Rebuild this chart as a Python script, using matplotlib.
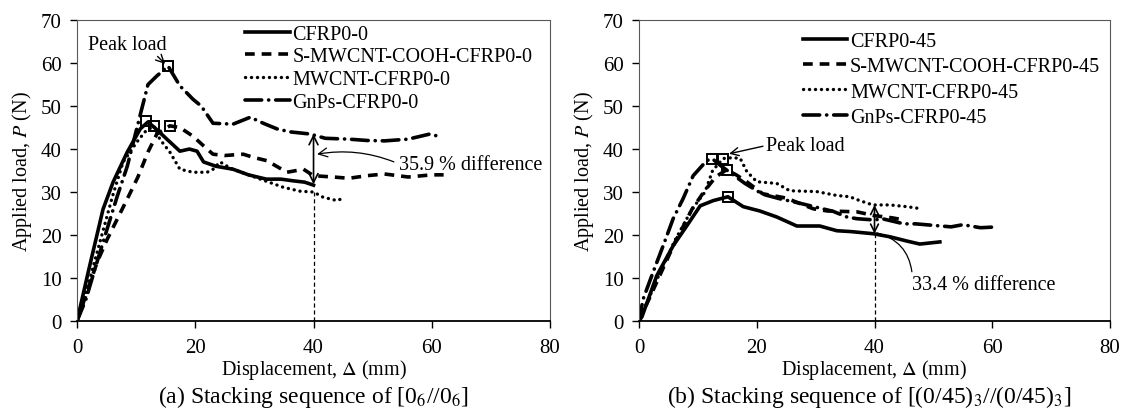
import numpy as np
import matplotlib
matplotlib.use("Agg")
import matplotlib.pyplot as plt

plt.rcParams['font.family'] = ['Liberation Serif', 'DejaVu Serif']
plt.rcParams['mathtext.fontset'] = 'stix'
plt.rcParams['lines.scale_dashes'] = False

# ---- (a) [0_6//0_6] ----
a_cfrp_x = [0, 2, 4.4, 6.1, 8.5, 10.7, 12, 13.5, 15.2, 17.4, 19, 20.3, 21.4, 23.5, 26.4, 29, 32, 34.5, 36.6, 38.5, 40]
a_cfrp_y = [0, 12, 26, 32.3, 39.3, 44.7, 46.3, 44.5, 42.3, 39.5, 40, 39.5, 37, 36, 35.3, 34, 33, 33, 32.6, 32.3, 31.6]
a_cooh_x = [0, 1.5, 3.4, 5.1, 6.8, 8.5, 10.3, 12, 13.5, 15.7, 17.4, 19.6, 22, 23, 25, 28.1, 30, 32.1, 35.5, 38.3, 40, 43.3, 46, 49, 52, 56, 60, 62]
a_cooh_y = [0, 6, 13.7, 19, 23.7, 28.4, 33.5, 39.3, 43.5, 45.4, 45, 43, 40, 38.8, 38.5, 38.8, 38, 37.3, 34.6, 35.3, 33.8, 33.5, 33.2, 33.8, 34.2, 33.5, 34, 34]
a_mw_x = [0, 2, 4, 6, 7.8, 10.1, 11.5, 13, 14, 15.7, 17.4, 19.6, 22, 23, 24.2, 26, 28, 31, 34.9, 37.7, 40, 41.6, 44, 45]
a_mw_y = [0, 9, 19, 29, 37, 41.6, 44, 45.4, 42.3, 39.3, 35.3, 34.6, 34.6, 35.3, 37, 35.5, 34.5, 33, 31.1, 30.2, 30, 28.8, 28, 28.6]
a_gnp_x = [0, 1.5, 3, 5, 6.8, 8.5, 10.7, 12, 13.5, 15.4, 17.4, 19.6, 21, 23, 26.4, 29.3, 31.5, 33.8, 36, 39.4, 42, 46, 49, 52, 56, 59.7, 61]
a_gnp_y = [0, 5, 12, 21, 29, 36, 48, 55, 57, 59.3, 54.7, 51.6, 50, 46, 45.8, 47.4, 46, 44.7, 44, 43.5, 42.5, 42.3, 42, 41.9, 42.3, 43.5, 43]
a_peak_x = [11.7, 13, 15.7, 15.4]
a_peak_y = [46.5, 45.4, 45.4, 59.3]
a_labels = ['CFRP0-0', 'S-MWCNT-COOH-CFRP0-0', 'MWCNT-CFRP0-0', 'GnPs-CFRP0-0']

# ---- (b) [(0/45)3//(0/45)3] ----
b_cfrp_x = [0, 0.5, 3, 5.8, 8.1, 10.4, 12.6, 15.1, 17.7, 20.5, 23.4, 26.8, 30.7, 33.6, 36, 39.8, 42.6, 45.5, 47.7, 51.1]
b_cfrp_y = [0, 1, 10.5, 17.5, 22.1, 26.8, 28, 28.9, 26.6, 25.6, 24.2, 22.1, 22.1, 21, 20.8, 20.3, 19.6, 18.6, 17.9, 18.4]
b_cooh_x = [0, 3, 6, 9, 11, 13, 14.9, 16.5, 18.3, 21, 25, 29.6, 32, 37, 40, 43, 45]
b_cooh_y = [0, 9, 18, 26, 30, 33.5, 35.2, 34, 32.4, 29.6, 28.6, 26.1, 25.6, 25.4, 24.5, 24, 23.5]
b_mw_x = [0, 3, 6, 9, 11.2, 12.5, 14.3, 16, 17.2, 18.3, 20, 23.4, 25.6, 30.2, 33.6, 35.8, 37.5, 39.7, 42.6, 45.5, 48]
b_mw_y = [0, 9.5, 18.5, 26, 30, 35, 37.8, 38, 37.8, 34.8, 32.4, 32, 30.3, 30.1, 29.2, 28.9, 28, 27, 27, 26.6, 26.1]
b_gnp_x = [0, 0.7, 2.4, 4.1, 5.8, 7.5, 9.2, 11.5, 12.4, 14, 16, 18, 21, 24, 27, 30, 33, 35.3, 37, 40, 41.3, 45, 47, 53, 55, 58, 61]
b_gnp_y = [0, 5.1, 11.4, 17.5, 23.8, 28.5, 33.8, 37.3, 37.8, 36, 34, 32, 29.5, 28.4, 27.5, 26.5, 25.5, 24.2, 23.8, 23.5, 23.8, 22.6, 22.6, 21.9, 22.4, 21.7, 21.9]
b_peak_x = [15.1, 14.9, 14.3, 12.4]
b_peak_y = [28.9, 35.2, 37.8, 37.8]
b_labels = ['CFRP0-45', 'S-MWCNT-COOH-CFRP0-45', 'MWCNT-CFRP0-45', 'GnPs-CFRP0-45']

styles = [
    dict(linestyle='-', lw=2.6),
    dict(linestyle=(0, (7, 5)), lw=2.6),
    dict(linestyle=(0, (0.1, 4.2)), lw=2.4, dash_capstyle='round'),
    dict(linestyle=(0, (12, 5, 0.1, 5)), lw=2.6, dash_capstyle='round'),
]


def draw_panel(ax, curves, labels, peaks, legend_pos, spacing):
    for (x, y), lab, st in zip(curves, labels, styles):
        ax.plot(x, y, color='black', label=lab, **st)
    ax.plot(peaks[0], peaks[1], 's', ms=6.5, mfc='none', mec='black', mew=1.4)

    ax.set_xlim(0, 80)
    ax.set_ylim(0, 70)
    ax.set_xticks([0, 20, 40, 60, 80])
    ax.set_yticks(np.arange(0, 71, 10))
    ax.tick_params(labelsize=15, length=5, width=1, direction='out', color='black', pad=6)
    ax.tick_params(axis='x', pad=7)
    for s in ['top', 'right', 'left']:
        ax.spines[s].set_color('#595959')
    ax.spines['bottom'].set_linewidth(1.3)
    ax.set_xlabel('Displacement, $\\Delta$ (mm)', fontsize=14.5, labelpad=0)
    ax.set_ylabel('Applied load, $P$ (N)', fontsize=14.5, labelpad=5)
    ax.legend(loc='upper left', bbox_to_anchor=legend_pos, frameon=False,
              fontsize=14.5, handlelength=2.2, handletextpad=0.15,
              labelspacing=spacing, borderaxespad=0.2)


fig = plt.figure(figsize=(11.26, 4.10), dpi=100)
ax1 = fig.add_axes([0.0684, 0.2146, 0.4201, 0.734])
ax2 = fig.add_axes([0.5675, 0.2146, 0.4183, 0.734])

draw_panel(ax1, [(a_cfrp_x, a_cfrp_y), (a_cooh_x, a_cooh_y), (a_mw_x, a_mw_y), (a_gnp_x, a_gnp_y)],
           a_labels, (a_peak_x, a_peak_y), (0.33, 1.025), 0.18)
draw_panel(ax2, [(b_cfrp_x, b_cfrp_y), (b_cooh_x, b_cooh_y), (b_mw_x, b_mw_y), (b_gnp_x, b_gnp_y)],
           b_labels, (b_peak_x, b_peak_y), (0.322, 1.0), 0.3)

# annotations (a)
ax1.annotate('Peak load', xy=(14.9, 59.8), xytext=(8.5, 64.4), fontsize=14.5,
             ha='center', va='center',
             arrowprops=dict(arrowstyle='->', color='black', lw=1, shrinkA=0, shrinkB=0,
                             relpos=(0.85, 0.0)))
ax1.plot([40, 40], [0, 30], color='black', lw=0.9, linestyle=(0, (3, 2)))
ax1.annotate('', xy=(40, 43.5), xytext=(40, 31.8),
             arrowprops=dict(arrowstyle='<->', color='black', lw=1.2, shrinkA=0, shrinkB=0,
                             mutation_scale=16))
ax1.annotate('35.9 % difference', xy=(40.6, 38.8), xytext=(54.5, 36.5), fontsize=14.5,
             ha='left', va='center',
             arrowprops=dict(arrowstyle='->', color='black', lw=0.9, shrinkA=2, shrinkB=0,
                             mutation_scale=16, connectionstyle='arc3,rad=0.15',
                             relpos=(0.0, 0.5)))

# annotations (b)
ax2.annotate('Peak load', xy=(15.3, 38.9), xytext=(28.2, 40.8), fontsize=14.5,
             ha='center', va='center',
             arrowprops=dict(arrowstyle='->', color='black', lw=1, shrinkA=0, shrinkB=0,
                             relpos=(0.0, 0.5)))
ax2.plot([40, 40], [0, 20.3], color='black', lw=0.9, linestyle=(0, (3, 2)))
ax2.annotate('', xy=(40, 27.0), xytext=(40, 20.3),
             arrowprops=dict(arrowstyle='<->', color='black', lw=1.2, shrinkA=0, shrinkB=0,
                             mutation_scale=14))
ax2.annotate('33.4 % difference', xy=(40.4, 20.5), xytext=(46.4, 8.6), fontsize=14.5,
             ha='left', va='center',
             arrowprops=dict(arrowstyle='-', color='black', lw=0.9, shrinkA=0, shrinkB=0,
                             connectionstyle='arc3,rad=0.35', relpos=(0.0, 1.0)))

fig.text(0.278, 0.032, '(a) Stacking sequence of [0$_6$//0$_6$]', fontsize=17, ha='center', va='center')
fig.text(0.772, 0.032, '(b) Stacking sequence of [(0/45)$_3$//(0/45)$_3$]', fontsize=17, ha='center', va='center')

fig.savefig('out.png', dpi=100)
